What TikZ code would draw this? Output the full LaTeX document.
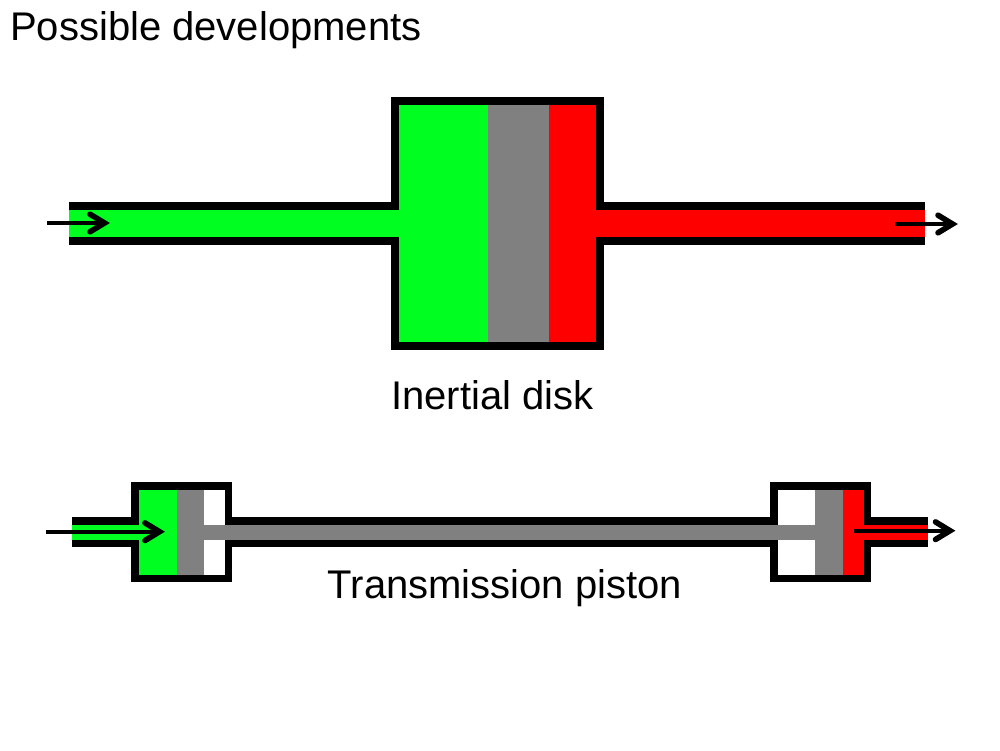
\documentclass[tikz,border=0pt]{standalone}
\usepackage{fontspec}
\setmainfont{Liberation Sans}
\usetikzlibrary{arrows.meta}
\definecolor{inflow}{RGB}{0,255,33}
\definecolor{outflow}{RGB}{255,0,0}
\definecolor{pistongray}{RGB}{128,128,128}
\pgfdeclarearrow{
  name=BoldBarb,
  setup code={
    \pgfarrowssettipend{0pt}
    \pgfarrowssetlineend{-7pt}
    \pgfarrowssetbackend{-21pt}
    \pgfarrowssetvisualbackend{-21pt}
  },
  drawing code={
    \pgfsetdash{}{0pt}
    \pgfsetlinewidth{5.6pt}
    \pgfsetroundcap
    \pgfsetmiterjoin
    \pgfpathmoveto{\pgfqpoint{-20.5pt}{8.8pt}}
    \pgfpathlineto{\pgfqpoint{-6pt}{0pt}}
    \pgfpathlineto{\pgfqpoint{-20.5pt}{-8.8pt}}
    \pgfusepathqstroke
  }
}
\tikzset{
  wall/.style={draw=black,line width=7.7pt,miter limit=10,line join=miter,line cap=butt},
  flowarrow/.style={draw=black,line width=3.7pt,line cap=butt,-BoldBarb},
  label/.style={inner sep=0pt,anchor=base,font=\fontsize{40}{48}\selectfont,text=black}
}
\begin{document}
\begin{tikzpicture}[x=1pt,y=-1pt]
\useasboundingbox (0,0) rectangle (1000,750);
% Inertial disk: fills
\fill[inflow] (69,209) rectangle (400,238);
\fill[inflow] (395,101) rectangle (488,346);
\fill[pistongray] (488,101) rectangle (548.7,346);
\fill[outflow] (548.7,101) rectangle (600,346);
\fill[outflow] (590,209) rectangle (925,238);
% Inertial disk: walls
\draw[wall] (69,206.3) -- (395.3,206.3) -- (395.3,101.3) -- (599.8,101.3) -- (599.8,206.3) -- (925,206.3);
\draw[wall] (69,240.8) -- (395.3,240.8) -- (395.3,345.7) -- (599.8,345.7) -- (599.8,240.8) -- (925,240.8);
% Transmission piston: fills
\fill[inflow] (72.3,525) rectangle (140,540);
\fill[inflow] (135,486) rectangle (176.5,579);
\fill[pistongray] (176.5,486) rectangle (203.5,579);
\fill[pistongray] (203,525) rectangle (816,540);
\fill[pistongray] (815.3,486) rectangle (842.5,579);
\fill[outflow] (842.5,486) rectangle (867,579);
\fill[outflow] (860,525) rectangle (928.3,540);
% Transmission piston: walls
\draw[wall] (72.3,521.2) -- (135,521.2) -- (135,486.2) -- (228.6,486.2) -- (228.6,521.2) -- (773.8,521.2) -- (773.8,486.2) -- (867.6,486.2) -- (867.6,521.2) -- (928.3,521.2);
\draw[wall] (72.3,543.5) -- (135,543.5) -- (135,578.6) -- (228.6,578.6) -- (228.6,543.5) -- (773.8,543.5) -- (773.8,578.6) -- (867.6,578.6) -- (867.6,543.5) -- (928.3,543.5);
% Arrows
\coordinate (a1s) at (47,223);
\coordinate (a1e) at (110.5,223);
\coordinate (a2s) at (895,224);
\coordinate (a2e) at (958.5,224);
\coordinate (a3s) at (45.7,531.7);
\coordinate (a3e) at (165.5,531.7);
\coordinate (a4s) at (854.3,530.7);
\coordinate (a4e) at (956,530.7);
\draw[flowarrow] (a1s) -- (a1e);
\draw[flowarrow] (a2s) -- (a2e);
\draw[flowarrow] (a3s) -- (a3e);
\draw[flowarrow] (a4s) -- (a4e);
% Labels
\node[label,anchor=base west] (title) at (10,40) {Possible developments};
\node[label] (inertial) at (492.5,409) {Inertial disk};
\node[label] (transmission) at (505,598) {Transmission piston};
\end{tikzpicture}
\end{document}
